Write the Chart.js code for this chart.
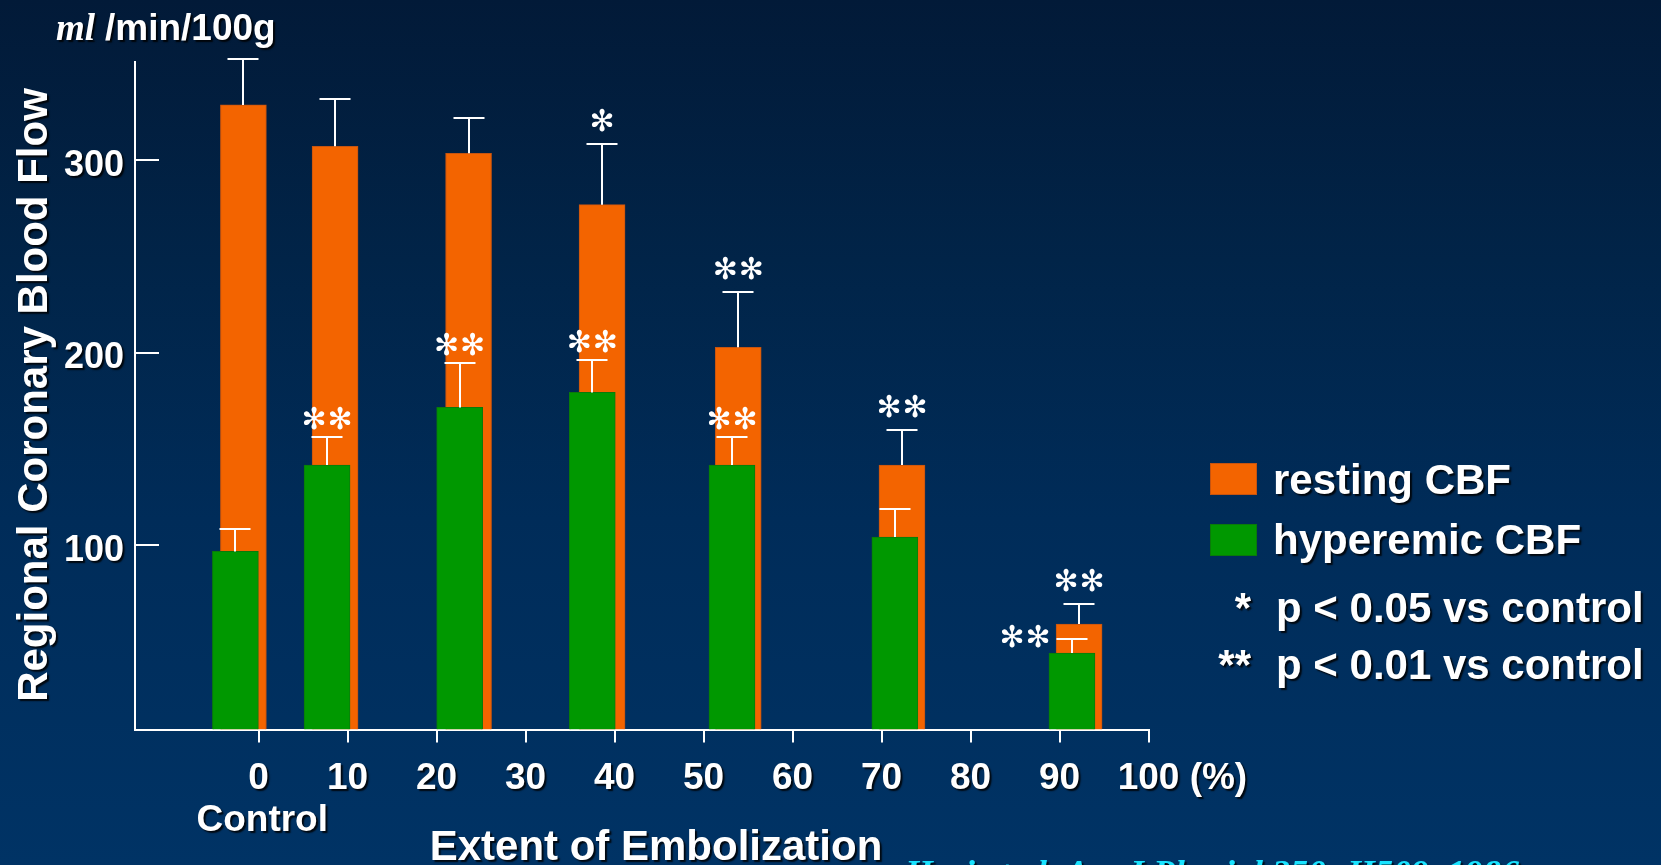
<!DOCTYPE html>
<html>
<head>
<meta charset="utf-8">
<script src="https://cdn.jsdelivr.net/npm/chart.js@4.4.1/dist/chart.umd.min.js"></script>
<style>
  html, body { margin: 0; padding: 0; background: #002a55; }
  #wrap {
    width: 1661px; height: 865px;
    background: linear-gradient(to bottom, #021a38 0%, #012448 30%, #002c59 60%, #003365 100%);
  }
  canvas { display: block; }
</style>
</head>
<body>
<div id="wrap"><canvas id="cbf" width="1661" height="865"></canvas></div>
<script>
// Regional coronary blood flow (ml/min/100g) against the extent of embolization (%)
const extentTicks     = [0, 10, 20, 30, 40, 50, 60, 70, 80, 90, 100];
const flowTicks       = [100, 200, 300];

const restingExtent   = [-1.7, 8.6, 23.6, 38.6, 53.9, 72.3, 92.2];
const restingFlow     = [328.6, 307.1, 303.5, 276.8, 202.7, 141.6, 59.0];
const restingSD       = [23.9, 24.6, 18.3, 31.7, 28.7, 18.1, 10.5];
const restingSig      = ['', '', '', '*', '**', '**', '**'];

const hyperemicExtent = [-2.6, 7.7, 22.6, 37.5, 53.2, 71.5, 91.4];
const hyperemicFlow   = [96.7, 141.6, 171.5, 179.3, 141.6, 104.2, 43.9];
const hyperemicSD     = [11.6, 14.7, 23.2, 16.8, 14.7, 14.5, 7.3];
const hyperemicSig    = ['', '**', '**', '**', '**', '', '**'];

// axis ranges
const X_MIN = -13.88, X_MAX = 100;
const Y_MIN = 4.2,    Y_MAX = 350.9;

const WHITE  = '#ffffff';
const ORANGE = '#F36400';
const GREEN  = '#009800';
const SANS   = '"Liberation Sans", Arial, sans-serif';
const SERIF  = '"Liberation Serif", "Times New Roman", serif';

function setShadow(ctx) {
  ctx.shadowColor = 'rgba(0,0,0,0.85)';
  ctx.shadowOffsetX = 2; ctx.shadowOffsetY = 2; ctx.shadowBlur = 1.5;
}
function clearShadow(ctx) {
  ctx.shadowColor = 'rgba(0,0,0,0)';
  ctx.shadowOffsetX = 0; ctx.shadowOffsetY = 0; ctx.shadowBlur = 0;
}

// error bars, significance marks, inward y ticks, titles and key
const decor = {
  id: 'decor',
  beforeDatasetsDraw(chart) {
    const { ctx, chartArea, scales: { y } } = chart;
    ctx.save();
    ctx.strokeStyle = WHITE; ctx.lineWidth = 2;
    y.ticks.forEach(t => {
      const py = Math.round(y.getPixelForValue(t.value));
      ctx.beginPath(); ctx.moveTo(chartArea.left, py); ctx.lineTo(chartArea.left + 24, py); ctx.stroke();
    });
    ctx.restore();
  },
  afterDatasetsDraw(chart) {
    const { ctx, scales: { y } } = chart;
    ctx.save();
    chart.data.datasets.forEach((ds, di) => {
      const meta = chart.getDatasetMeta(di);
      meta.data.forEach((bar, i) => {
        const x = Math.round(bar.x);
        const top = bar.y;
        const capY = Math.round(y.getPixelForValue(ds.data[i].y + ds.sd[i]));
        ctx.strokeStyle = WHITE; ctx.lineWidth = 2;
        ctx.beginPath();
        ctx.moveTo(x, top); ctx.lineTo(x, capY);
        ctx.moveTo(x - 15.5, capY); ctx.lineTo(x + 15.5, capY);
        ctx.stroke();

        const mark = ds.sig[i];
        if (!mark) return;
        const n = mark.length, gap = 26;
        ctx.fillStyle = WHITE;
        ctx.font = '30px "DejaVu Sans"';
        ctx.textAlign = 'center'; ctx.textBaseline = 'middle';
        const side = ds.sigPlacement ? ds.sigPlacement[i] : 'above';
        for (let k = 0; k < n; k++) {
          let cx, cy;
          if (side === 'left') {
            cx = bar.x - 34 - (n - 1 - k) * gap; cy = capY;
          } else {
            cx = bar.x - (n - 1) * gap / 2 + k * gap; cy = capY - ds.sigLift;
          }
          ctx.fillText('\u273B', cx, cy);
        }
      });
    });
    ctx.restore();
    // the tick label layer is drawn right after this hook: give it a drop shadow
    setShadow(ctx);
  },
  afterDraw(chart) {
    const { ctx, scales: { x } } = chart;
    ctx.save();
    setShadow(ctx);
    ctx.fillStyle = WHITE;
    ctx.textBaseline = 'alphabetic';

    // unit label
    ctx.textAlign = 'left';
    ctx.font = 'italic bold 37px ' + SERIF;
    ctx.fillText('ml', 56, 40);
    ctx.font = 'bold 37px ' + SANS;
    ctx.fillText('/min/100g', 105, 40);

    // percent sign after the last extent tick
    ctx.font = 'bold 37px ' + SANS;
    ctx.textBaseline = 'middle';
    const p100 = x.getPixelForValue(100);
    const w100 = ctx.measureText('100').width;
    ctx.fillText(' (%)', p100 + w100 / 2, x.top + 13 + 15 + 42.4 / 2);

    // axis titles
    ctx.font = 'bold 42px ' + SANS;
    ctx.textAlign = 'center'; ctx.textBaseline = 'alphabetic';
    ctx.fillText('Extent of Embolization', 656, 860);
    ctx.save();
    ctx.translate(35, 395);
    ctx.rotate(-Math.PI / 2);
    ctx.textBaseline = 'middle';
    ctx.fillText('Regional Coronary Blood Flow', 0, 0);
    ctx.restore();

    // key
    clearShadow(ctx);
    const keys = [chart.data.datasets[0], chart.data.datasets[1]];
    const boxY = [463, 524];
    keys.forEach((ds, k) => {
      ctx.fillStyle = ds.backgroundColor;
      ctx.fillRect(1210, boxY[k], 47, 32);
      ctx.strokeStyle = ds.borderColor; ctx.lineWidth = 1;
      ctx.strokeRect(1210.5, boxY[k] + 0.5, 46, 31);
    });
    setShadow(ctx);
    ctx.fillStyle = WHITE;
    ctx.textAlign = 'left';
    ctx.font = 'bold 42px ' + SANS;
    ctx.fillText(keys[0].label, 1273, 493.5);
    ctx.fillText(keys[1].label, 1273, 553.5);
    ctx.fillText('p < 0.05 vs control', 1276, 622);
    ctx.fillText('p < 0.01 vs control', 1276, 679);
    ctx.textAlign = 'right';
    ctx.fillText('*', 1251, 622);
    ctx.fillText('**', 1251, 679);

    // citation
    ctx.textAlign = 'left';
    ctx.fillStyle = '#19E3FF';
    ctx.font = 'italic bold 36px ' + SERIF;
    ctx.fillText('Hori et al. Am J Physiol 250: H509, 1986', 905, 885);

    clearShadow(ctx);
    ctx.restore();
  }
};

const tickFont = { family: SANS, weight: 'bold', size: 37, lineHeight: 42.4 / 37 };

new Chart(document.getElementById('cbf'), {
  type: 'bar',
  data: {
    datasets: [
      {
        label: 'resting CBF',
        data: restingExtent.map((v, i) => ({ x: v, y: restingFlow[i] })),
        sd: restingSD, sig: restingSig, sigLift: 21,
        backgroundColor: ORANGE, borderColor: '#C65410', borderWidth: 1,
        base: Y_MIN, order: 2
      },
      {
        label: 'hyperemic CBF',
        data: hyperemicExtent.map((v, i) => ({ x: v, y: hyperemicFlow[i] })),
        sd: hyperemicSD, sig: hyperemicSig, sigLift: 16,
        sigPlacement: ['above', 'above', 'above', 'above', 'above', 'above', 'left'],
        backgroundColor: GREEN, borderColor: '#0A7A0A', borderWidth: 1,
        base: Y_MIN, order: 1
      }
    ]
  },
  options: {
    responsive: false,
    animation: false,
    devicePixelRatio: 1,
    layout: { padding: { left: 0, top: 62, right: 1661 - 1148.5, bottom: 0 } },
    datasets: { bar: { grouped: false, barThickness: 46 } },
    plugins: { legend: { display: false }, tooltip: { enabled: false } },
    scales: {
      x: {
        type: 'linear', min: X_MIN, max: X_MAX, offset: false,
        afterFit: s => { s.height = 135.5; },
        afterBuildTicks: s => { s.ticks = extentTicks.map(v => ({ value: v })); },
        grid: { offset: false, drawOnChartArea: false, drawTicks: true, tickLength: 13, color: WHITE, lineWidth: 2 },
        border: { color: WHITE, width: 2 },
        ticks: {
          z: 1, color: WHITE, padding: 15, maxRotation: 0, autoSkip: false, font: tickFont,
          callback: v => (v === 0 ? ['0', '\u2009Control'] : String(v))
        }
      },
      y: {
        min: Y_MIN, max: Y_MAX,
        afterFit: s => { s.width = 135; },
        afterBuildTicks: s => { s.ticks = flowTicks.map(v => ({ value: v })); },
        grid: { display: false, drawTicks: false },
        border: { color: WHITE, width: 2 },
        ticks: { z: 1, color: WHITE, padding: 11, labelOffset: 6, font: { family: SANS, weight: 'bold', size: 36 } }
      }
    }
  },
  plugins: [decor]
});
</script>
</body>
</html>
